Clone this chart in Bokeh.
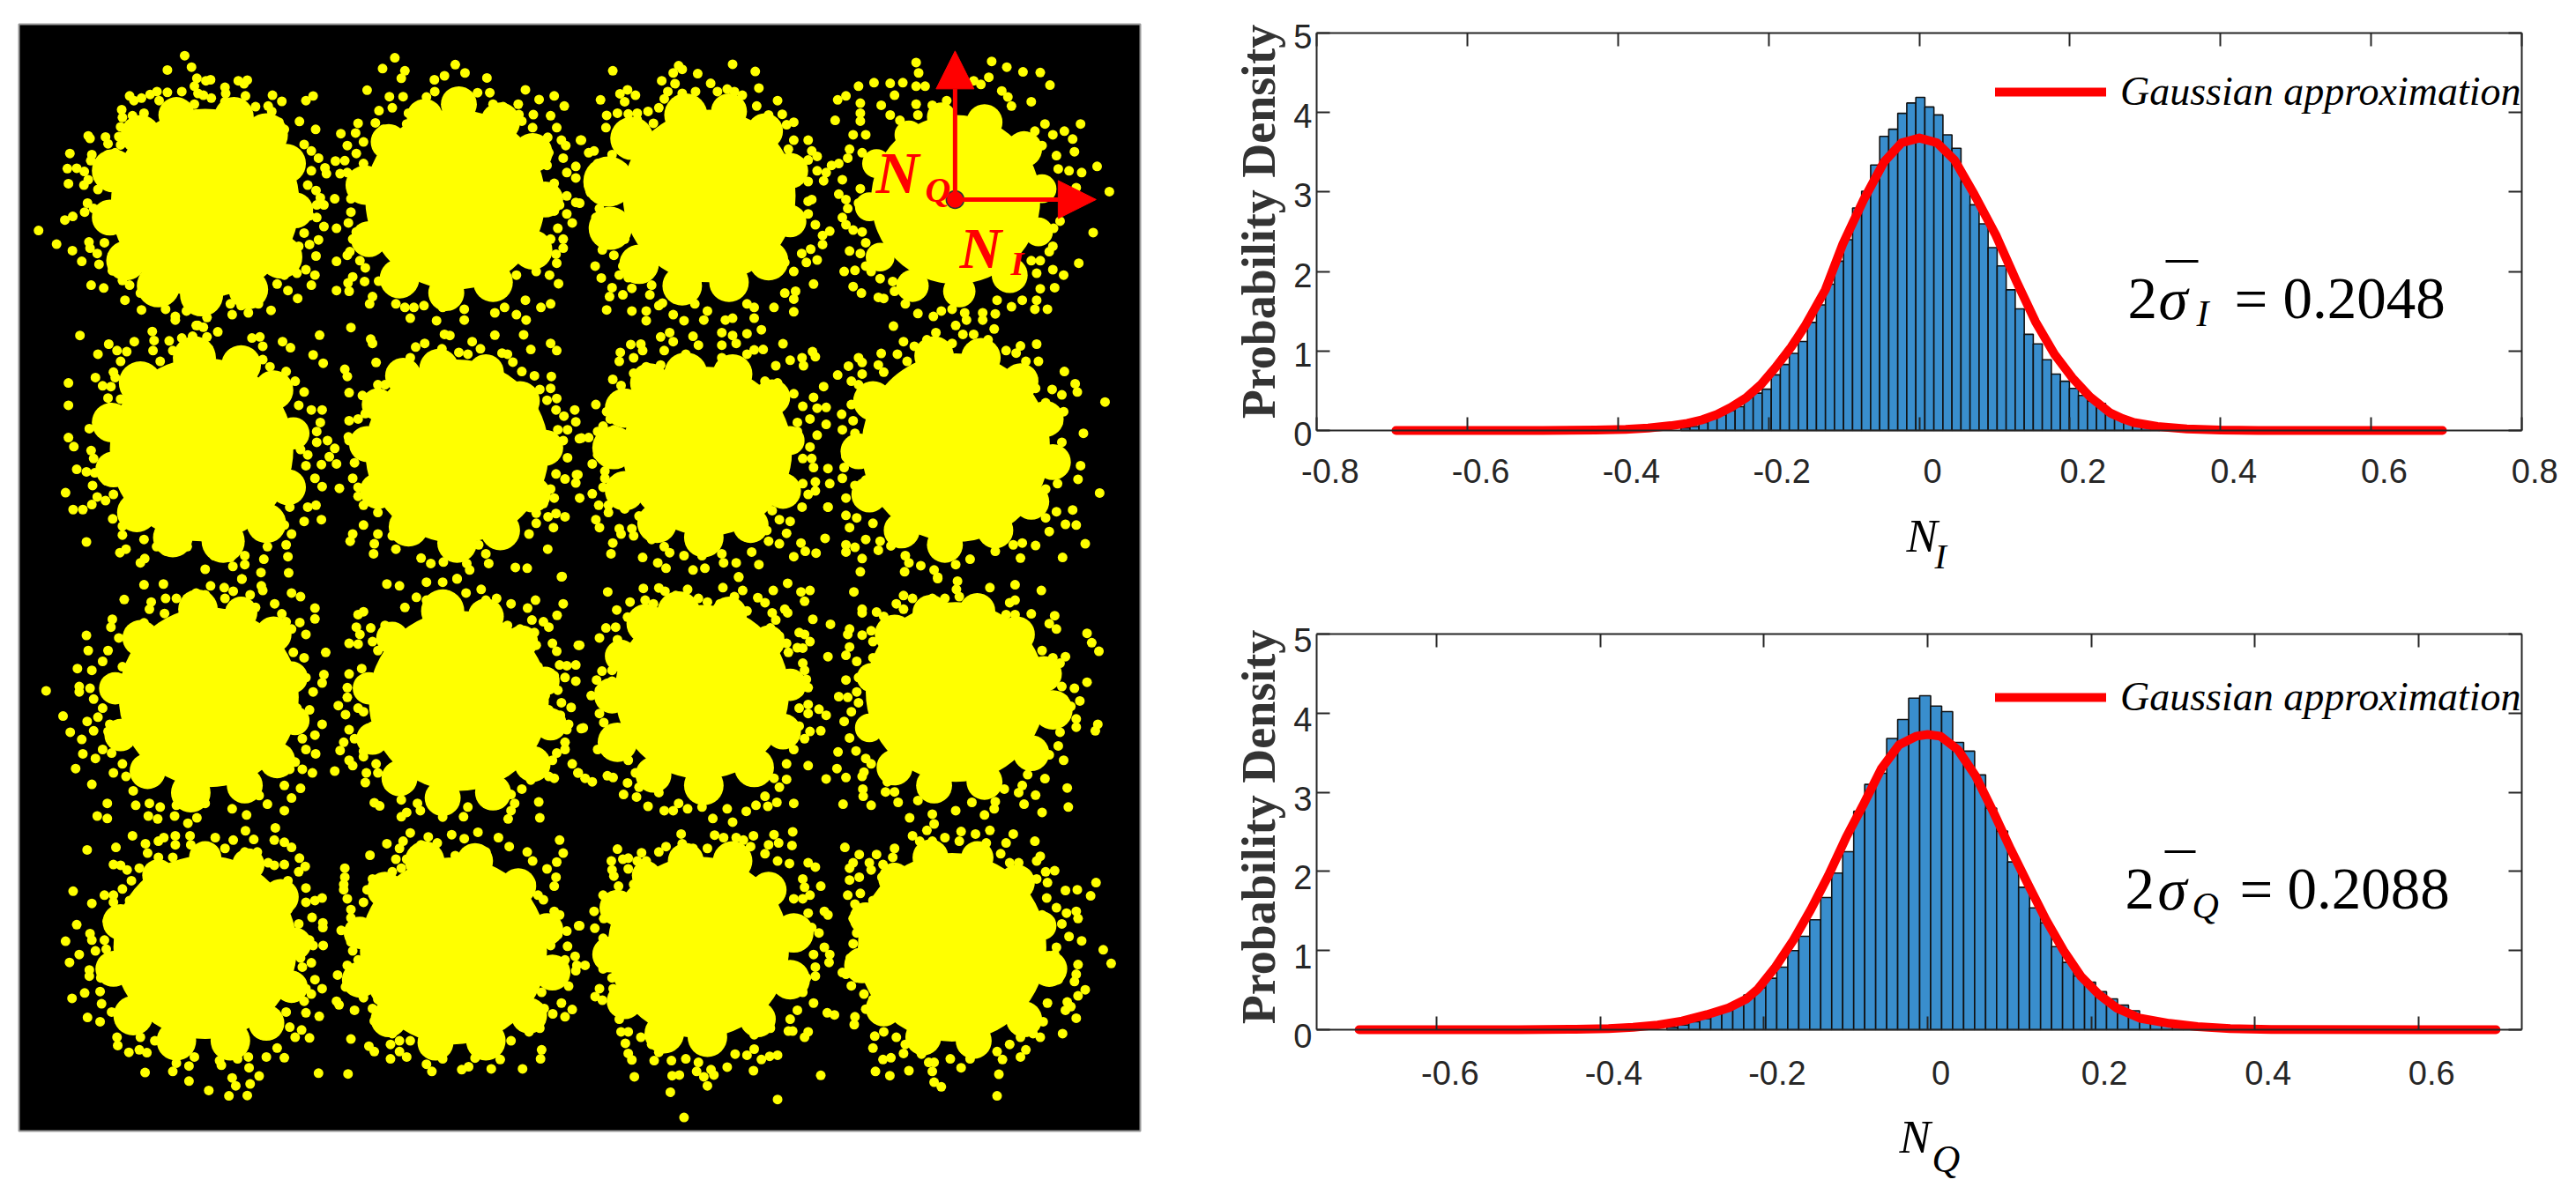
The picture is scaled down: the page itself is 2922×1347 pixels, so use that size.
from bokeh.plotting import figure
from bokeh.layouts import row, column
from bokeh.models import Range1d, Label, LinearAxis, FixedTicker, Legend, LegendItem, Arrow, NormalHead
from bokeh.embed import file_html
from bokeh.resources import INLINE
import math

# ---- constellation: cluster cores (x, y, radius), dense lobes on their rims, and visible scattered samples, per image quadrant
Q_OFFSET_X = 1555.75
Q_OFFSET_Y = 1519.0
CORES_Q1 = [(520,490,262),(1215,480,250),(510,1175,255),(1220,1180,255),
(440,245,50),(600,250,55),(690,300,60),(745,380,55),(770,510,50),(730,640,60),(640,730,55),(510,745,60),(390,720,60),(300,650,55),(255,530,50),(265,400,60),(340,300,55),
(1130,250,50),(1225,215,50),(1340,265,55),(1430,350,55),(1465,480,50),(1430,620,55),(1320,710,55),(1190,740,50),(1060,700,55),(975,590,50),(965,440,55),(1030,320,50),
(490,920,60),(620,940,55),(710,1010,55),(765,1130,45),(750,1280,50),(690,1380,55),(570,1430,60),(430,1420,55),(330,1350,55),(265,1230,50),(260,1100,55),(340,990,60),
(1170,950,55),(1300,960,50),(1395,1040,55),(1465,1170,50),(1430,1300,50),(1340,1400,55),(1220,1435,55),(1085,1390,55),(1000,1290,50),(970,1160,50),(1000,1050,45),(1070,970,50)]
CORES_Q2 = [(365,470,240),(1050,480,235),(360,1180,235),(1050,1170,262),
(300,245,60),(420,235,50),(520,290,50),(590,400,50),(590,540,45),(530,650,55),(420,710,55),(290,720,55),(170,660,55),(90,560,60),(85,430,70),(150,310,60),
(1010,250,40),(1130,265,50),(1240,340,50),(1290,450,40),(1280,570,40),(1200,690,50),(1060,735,45),(930,720,45),(840,640,40),(810,500,40),(830,380,40),(920,300,40),
(300,965,60),(430,965,55),(540,1030,50),(590,1150,40),(570,1290,50),(480,1385,50),(350,1420,55),(220,1380,55),(130,1290,55),(100,1170,60),(130,1060,55),(200,990,55),
(990,915,55),(1120,920,55),(1230,985,50),(1300,1090,50),(1320,1210,50),(1260,1320,50),(1160,1400,50),(1020,1440,50),(900,1400,50),(810,1300,50),(780,1180,50),(820,1040,55)]
CORES_Q3 = [(530,345,250),(1225,355,250),(520,1040,255),(1210,1050,260),
(500,100,55),(620,110,45),(710,170,50),(760,290,45),(770,410,40),(720,520,50),(630,590,50),(480,610,55),(360,550,50),(285,450,45),(270,320,45),(340,180,50),
(1180,105,60),(1300,120,50),(1400,190,45),(1465,300,40),(1480,420,45),(1430,530,50),(1320,610,50),(1180,625,50),(1060,570,50),(985,460,45),(975,320,45),(1040,180,45),
(520,790,45),(640,810,45),(730,900,50),(770,1030,45),(760,1150,45),(690,1250,50),(590,1300,55),(440,1300,55),(320,1230,55),(265,1100,50),(285,970,50),(390,840,45),
(1130,800,55),(1270,800,50),(1390,870,50),(1470,990,45),(1485,1110,50),(1420,1230,50),(1300,1300,55),(1160,1305,50),(1030,1240,50),(950,1130,50),(950,1000,45),(1020,880,50)]
CORES_Q4 = [(345,330,242),(1050,330,250),(335,1040,252),(1040,1040,262),
(280,110,60),(420,115,50),(530,190,45),(590,310,45),(570,440,50),(490,540,55),(350,590,55),(210,560,50),(110,470,55),(95,340,50),(120,230,45),(190,140,55),
(980,110,50),(1110,105,50),(1220,170,50),(1295,280,50),(1320,380,55),(1260,500,50),(1130,580,50),(990,590,50),(880,540,50),(810,430,40),(815,290,40),(880,170,55),
(300,800,50),(430,800,55),(530,880,50),(600,1000,55),(590,1130,55),(500,1240,50),(360,1290,55),(240,1280,55),(130,1190,50),(90,1060,50),(110,930,50),(190,840,40),
(980,790,50),(1110,790,45),(1220,860,50),(1290,980,40),(1310,1100,50),(1240,1240,50),(1100,1300,50),(960,1290,50),(850,1210,50),(790,1090,50),(800,960,45),(880,850,45)]

POINTS_Q1 = [(463,80),(482,112),(415,120),(497,143),(522,150),(535,147),(612,150),(637,148),(628,158),(575,168),(577,185),(490,165),(500,185),(310,192),(322,205),(343,198),(367,188),(386,180),(415,182),(455,180),(392,205),(515,190),(537,198),(632,192),(575,208),(610,212),(707,190),(733,207),(800,205),(820,192),(288,230),(318,247),(290,252),(285,278),(280,305),(350,240),(405,240),(455,225),(490,215),(660,222),(695,220),(705,235),(345,270),(725,265),(782,263),(740,285),(827,285),(660,285),(195,303),(200,310),(243,306),(250,325),(285,328),(320,330),(795,327),(815,345),(770,355),(144,352),(205,355),(202,372),(270,350),(250,355),(835,365),(853,392),(857,408),(815,400),(137,394),(163,393),(184,402),(195,425),(140,436),(183,440),(230,430),(222,452),(235,400),(805,440),(828,455),(840,475),(850,495),(830,495),(810,525),(830,530),(850,555),(193,490),(185,515),(210,505),(232,525),(130,537),(152,527),(57,566),(107,604),(151,622),(197,598),(200,615),(220,630),(177,652),(225,660),(262,678),(240,600),(795,573),(780,610),(810,605),(835,592),(760,635),(828,637),(775,685),(800,675),(825,690),(815,718),(720,715),(740,690),(750,733),(777,755),(703,788),(203,718),(238,726),(290,705),(310,718),(297,760),(340,740),(365,750),(343,787),(410,785),(437,805),(437,815),(468,790),(510,780),(525,808),(500,830),(595,800),(640,795),(668,770),(620,775),(655,745),(590,770),
(1047,86),(1013,116),(1075,122),(1065,143),(1215,105),(1242,128),(1185,136),(1157,147),(1303,142),(970,176),(1032,194),(1070,194),(1135,195),(1158,180),(1220,185),(1277,183),(1311,183),(1410,175),(1448,202),(1490,192),(1518,220),(1320,215),(1348,222),(1390,215),(1003,233),(1040,225),(1085,240),(1110,255),(1080,270),(945,268),(993,267),(1260,218),(1360,250),(1392,244),(1432,244),(1480,247),(1400,262),(1430,280),(1497,280),(897,297),(938,295),(1015,285),(1563,315),(1472,307),(1510,315),(1522,330),(915,330),(960,320),(940,352),(1445,335),(1475,350),(1515,365),(882,373),(908,372),(960,380),(1550,388),(895,408),(915,405),(1525,405),(1550,420),(1470,385),(965,440),(1490,435),(880,478),(925,478),(1525,470),(1505,495),(1550,488),(925,515),(1490,512),(1525,520),(918,545),(1540,545),(1500,560),(885,560),(940,570),(1515,590),(930,590),(1480,590),(957,615),(1515,615),(922,625),(915,635),(1495,632),(885,652),(950,650),(1497,657),(965,670),(930,695),(1440,680),(1477,690),(963,708),(1002,707),(917,712),(1502,714),(885,733),(920,735),(1045,720),(1385,690),(1410,760),(985,750),(977,770),(1050,770),(1075,780),(1100,780),(1128,775),(1180,780),(1240,785),(1325,795),(1352,780),(1385,800),(1453,780),(1480,770),(1090,810),(1163,817),(1240,815),(1412,815),
(172,858),(373,847),(495,830),(515,835),(525,862),(555,848),(252,882),(323,875),(378,872),(420,873),(455,865),(485,860),(650,865),(672,862),(735,875),(757,892),(838,857),(275,900),(302,903),(680,888),(222,910),(375,900),(430,900),(465,895),(530,895),(600,905),(820,912),(680,925),(285,930),(395,930),(445,930),(630,905),(848,935),(320,950),(265,960),(745,958),(700,945),(215,975),(270,975),(140,990),(235,998),(770,985),(258,1000),(795,1015),(250,1032),(285,1035),(140,1052),(255,1058),(780,1052),(815,1065),(845,1065),(240,1085),(840,1100),(198,1117),(225,1105),(780,1110),(830,1125),(140,1142),(155,1167),(245,1135),(790,1140),(860,1150),(830,1155),(203,1178),(210,1200),(785,1175),(880,1172),(805,1190),(865,1195),(885,1215),(163,1230),(190,1237),(213,1240),(245,1262),(800,1220),(843,1217),(825,1255),(207,1275),(845,1278),(893,1283),(132,1295),(220,1307),(265,1300),(770,1300),(205,1328),(243,1317),(153,1342),(180,1342),(305,1330),(755,1335),(805,1335),(828,1330),(295,1352),(263,1368),(795,1375),(843,1370),(345,1380),(290,1388),(290,1413),(740,1385),(720,1400),(760,1410),(190,1432),(350,1425),(385,1445),(745,1440),(693,1445),(300,1452),(283,1462),(410,1457),(470,1445),(530,1443),(600,1445),(352,1478),(340,1490),(545,1470),(590,1475),(630,1470),(683,1480),(750,1473),(597,1500),(520,1508),(630,1495),(675,1517),(752,1518),(622,1535),
(925,836),(980,868),(985,880),(1185,855),(1200,858),(1325,857),(1405,856),(1262,875),(1480,880),(1497,900),(1130,880),(1178,895),(1105,890),(1225,905),(1250,910),(1285,895),(1345,907),(1360,910),(1425,897),(995,933),(1045,945),(1090,920),(1160,935),(1375,932),(908,952),(915,972),(1078,965),(1400,958),(1435,970),(1482,972),(1000,995),(1020,995),(1060,998),(1450,1008),(1480,1005),(920,1017),(957,1025),(1005,1027),(1470,1038),(1497,1033),(975,1045),(1430,1055),(1495,1065),(1547,1065),(1517,1082),(965,1075),(1550,1098),(920,1095),(945,1090),(1435,1085),(1500,1120),(1527,1120),(918,1140),(920,1150),(955,1140),(1560,1145),(1490,1155),(1515,1150),(960,1175),(1480,1190),(1527,1198),(935,1212),(1495,1243),(1552,1245),(930,1255),(1520,1257),(1550,1268),(945,1280),(1480,1285),(980,1310),(1490,1310),(945,1305),(1460,1325),(1415,1320),(960,1330),(1440,1352),(1473,1362),(1495,1353),(1520,1362),(1000,1350),(1440,1380),(1488,1392),(1050,1380),(960,1385),(1000,1410),(1040,1415),(1085,1410),(1420,1410),(930,1410),(923,1430),(990,1437),(1050,1452),(988,1465),(1225,1445),(1280,1440),(1300,1465),(1472,1452),(1120,1477),(1147,1492),(1182,1488),(1247,1492),(1255,1510),(1308,1492),(1382,1503),(1415,1505),(1512,1528),(1220,1535)]

POINTS_Q2 = [(97,122),(280,108),(290,118),(333,130),(430,104),(493,124),(265,128),(233,150),(270,158),(369,157),(503,170),(117,186),(138,175),(160,190),(250,180),(290,185),(327,180),(388,180),(415,173),(435,180),(457,190),(63,203),(130,208),(240,200),(555,205),(497,220),(80,246),(110,240),(140,242),(165,240),(195,235),(225,225),(275,210),(325,210),(568,243),(600,265),(580,272),(78,280),(120,280),(165,258),(210,268),(530,245),(550,295),(10,315),(125,305),(600,315),(640,315),(30,350),(45,345),(95,355),(585,340),(650,345),(665,360),(55,380),(78,380),(640,370),(665,400),(690,405),(683,428),(30,440),(35,460),(610,420),(640,430),(5,490),(60,505),(640,485),(650,480),(600,510),(50,530),(640,520),(620,545),(660,550),(700,568),(680,580),(55,575),(130,590),(680,605),(68,620),(622,630),(647,618),(665,648),(635,655),(100,635),(48,665),(125,665),(155,655),(600,680),(575,655),(115,690),(140,697),(65,698),(205,718),(655,715),(95,725),(150,727),(88,750),(125,745),(200,745),(575,740),(605,735),(600,757),(235,768),(270,755),(325,770),(470,770),(80,787),(150,790),(190,790),(225,775),(265,800),(360,790),(490,780),(545,780),(600,792),(190,817),(295,817),(350,815),(410,815),(430,810),(490,810),(510,842),
(940,99),(1150,96),(1192,112),(1237,125),(1285,127),(947,128),(1142,140),(780,165),(823,155),(868,157),(903,155),(940,165),(965,165),(1100,150),(1312,162),(1120,160),(722,203),(745,192),(880,190),(1178,178),(1195,195),(1260,208),(785,212),(843,218),(985,218),(1205,220),(785,240),(868,245),(940,215),(1025,205),(715,260),(785,262),(895,260),(945,245),(1397,270),(1298,270),(1352,290),(1375,312),(1270,290),(1320,300),(765,300),(800,300),(920,280),(1380,347),(1330,358),(1290,330),(755,340),(790,350),(705,385),(725,380),(750,365),(1443,388),(1400,405),(1365,400),(1335,395),(1385,447),(735,425),(1477,458),(725,465),(785,450),(745,480),(780,490),(750,505),(1340,540),(735,530),(745,550),(765,565),(790,570),(1322,560),(1432,572),(800,600),(755,623),(785,630),(1320,610),(1310,625),(800,665),(740,680),(770,677),(1392,657),(1260,650),(1285,650),(815,680),(1320,675),(1275,685),(1350,690),(840,700),(875,708),(765,722),(1325,725),(1285,728),(788,740),(835,752),(850,755),(880,735),(1235,760),(1165,760),(910,770),(1205,778),(1275,760),(1270,785),(1305,785),(945,797),(988,805),(1040,785),(1010,790),(1075,795),(1125,795),(1160,798),(1080,815),(1125,815),
(400,850),(430,858),(470,853),(570,881),(255,850),(230,862),(320,860),(265,875),(147,883),(175,882),(335,885),(400,885),(440,880),(490,898),(515,897),(652,903),(660,917),(118,905),(155,920),(115,930),(180,900),(240,900),(300,910),(400,920),(470,910),(623,920),(627,942),(590,927),(550,942),(155,963),(190,945),(230,940),(450,945),(97,980),(120,997),(110,1025),(170,990),(520,985),(555,990),(683,1000),(600,1020),(655,1030),(50,1050),(130,1050),(625,1055),(665,1060),(690,1058),(80,1070),(90,1090),(125,1090),(645,1090),(610,1100),(690,1105),(70,1110),(100,1120),(610,1125),(665,1135),(10,1143),(30,1142),(55,1125),(645,1168),(120,1170),(605,1170),(55,1190),(40,1215),(95,1210),(650,1200),(625,1200),(75,1235),(655,1225),(695,1228),(75,1255),(125,1255),(660,1265),(700,1270),(0,1245),(70,1280),(90,1285),(660,1290),(625,1270),(40,1298),(105,1305),(5,1310),(640,1300),(58,1330),(85,1330),(623,1335),(85,1350),(695,1335),(130,1340),(170,1360),(50,1370),(590,1375),(540,1345),(60,1392),(115,1395),(220,1360),(120,1410),(150,1395),(155,1415),(560,1370),(580,1408),(525,1400),(97,1435),(205,1425),(240,1445),(620,1435),(530,1430),(687,1422),(560,1437),(92,1465),(255,1462),(295,1470),(345,1470),(400,1465),(483,1460),(632,1458),(662,1463),(180,1475),(600,1473),(222,1490),(245,1505),(405,1490),(440,1490),(503,1495),(320,1510),(353,1505),(447,1530),
(877,832),(1050,830),(1157,840),(995,850),(1070,855),(905,875),(935,888),(970,870),(1040,880),(1100,855),(1140,870),(1275,882),(1230,887),(1190,900),(843,908),(888,910),(960,905),(780,920),(790,933),(752,943),(835,940),(915,930),(1245,930),(1218,907),(1280,930),(722,968),(790,965),(850,960),(1352,958),(1265,975),(760,985),(780,995),(1382,992),(1388,1015),(1318,1008),(820,1005),(1215,995),(1272,1005),(790,1020),(1345,1023),(1300,1045),(733,1077),(1465,1043),(1350,1070),(765,1095),(760,1050),(735,1120),(770,1130),(1335,1100),(1405,1130),(1345,1155),(745,1195),(765,1170),(1330,1195),(740,1225),(735,1255),(1397,1220),(1390,1258),(800,1260),(1335,1205),(770,1275),(1333,1270),(1450,1296),(745,1310),(775,1300),(1300,1285),(695,1335),(790,1325),(1375,1343),(1330,1348),(745,1358),(775,1365),(1290,1335),(820,1380),(755,1392),(1355,1383),(1385,1385),(1300,1365),(800,1425),(840,1430),(1310,1403),(1410,1437),(745,1440),(770,1447),(870,1443),(1272,1442),(1235,1435),(835,1455),(745,1460),(910,1470),(1210,1440),(1160,1458),(1347,1475),(790,1478),(1230,1477),(1090,1480),(1050,1495),(920,1490),(953,1498),(785,1515),(908,1515),(990,1510),(1000,1530)]

POINTS_Q3 = [(350,32),(404,30),(622,16),(676,35),(680,48),(760,55),(785,65),(295,73),(535,35),(573,40),(598,50),(495,55),(520,60),(645,60),(370,80),(365,100),(410,70),(440,70),(470,70),(575,70),(713,85),(825,97),(825,127),(407,112),(660,95),(733,113),(262,128),(258,150),(783,137),(350,138),(190,173),(745,135),(800,170),(760,155),(280,180),(195,215),(855,220),(740,185),(765,220),(320,190),(795,235),(250,215),(235,245),(165,265),(205,270),(290,260),(775,270),(850,282),(800,290),(760,300),(170,315),(170,330),(200,320),(250,315),(78,327),(845,305),(820,330),(210,350),(235,375),(775,375),(125,397),(222,400),(810,380),(790,410),(845,420),(192,412),(255,420),(145,442),(210,438),(825,450),(790,460),(177,462),(275,470),(250,440),(180,502),(215,515),(260,500),(235,490),(827,502),(800,490),(160,543),(290,530),(770,525),(755,545),(790,545),(818,555),(265,555),(300,565),(205,587),(350,570),(740,590),(785,598),(320,605),(760,625),(327,645),(365,640),(395,650),(440,645),(520,640),(670,618),(693,642),(740,660),(248,640),(220,675),(248,682),(362,675),(388,683),(435,675),(497,680),(472,695),(595,655),(635,672),
(1025,30),(1060,35),(1135,25),(1180,25),(1220,15),(1510,10),(1287,45),(1245,55),(1107,67),(1135,75),(1330,70),(1438,75),(1370,85),(1515,85),(1416,97),(960,107),(945,115),(1075,95),(1150,70),(1300,75),(1498,117),(1428,130),(1460,135),(940,150),(980,152),(1475,150),(1020,145),(1360,145),(1395,155),(1435,165),(950,170),(920,195),(945,197),(985,190),(1010,182),(1557,200),(1485,195),(1440,200),(1497,217),(1000,215),(955,265),(1505,255),(1525,257),(1550,255),(920,280),(1445,260),(1490,285),(1520,290),(980,290),(915,318),(1550,300),(1500,325),(915,345),(1510,360),(890,368),(1465,340),(945,375),(1537,373),(910,393),(960,385),(1475,380),(1507,395),(1530,420),(1565,432),(920,435),(935,460),(985,425),(1500,430),(1525,435),(905,470),(895,493),(960,495),(1520,470),(1520,490),(1497,500),(920,520),(930,535),(1485,520),(1540,530),(960,510),(995,530),(1000,555),(968,555),(1557,555),(880,550),(965,582),(1475,565),(1490,570),(1030,590),(1425,575),(1060,600),(1400,600),(1065,630),(1370,615),(1110,640),(990,638),(1005,647),(1380,640),(1340,640),(1447,636),(1080,665),(1065,677),(1118,660),(1180,678),(1238,677),(1362,683),(1450,680),(1300,640),(1190,645),(1250,650),(1370,660),
(715,708),(318,730),(632,716),(405,735),(390,745),(437,730),(478,730),(548,735),(598,742),(655,740),(712,742),(740,748),(760,762),(272,762),(354,752),(192,769),(437,755),(480,755),(575,765),(630,775),(665,775),(360,778),(390,790),(430,790),(782,792),(265,810),(285,812),(303,825),(337,820),(380,822),(695,805),(740,810),(712,812),(798,815),(780,830),(315,855),(360,850),(750,855),(800,875),(153,884),(290,878),(240,895),(265,895),(265,915),(800,915),(205,918),(745,905),(845,903),(825,910),(310,910),(750,935),(320,975),(248,967),(817,957),(163,977),(847,972),(847,985),(780,975),(200,1002),(205,1020),(240,1020),(132,1023),(810,1020),(820,1035),(848,1035),(170,1060),(215,1050),(245,1045),(143,1082),(240,1080),(785,1070),(815,1083),(790,1095),(198,1103),(198,1120),(230,1125),(770,1120),(825,1130),(845,1155),(185,1167),(228,1163),(800,1155),(150,1182),(232,1197),(765,1180),(815,1170),(795,1190),(193,1235),(228,1247),(260,1220),(800,1222),(837,1232),(745,1220),(300,1255),(755,1262),(788,1270),(275,1290),(340,1290),(770,1290),(810,1292),(277,1313),(380,1300),(720,1320),(308,1332),(337,1325),(358,1333),(420,1330),(740,1347),(690,1345),(490,1345),(440,1362),(560,1355),(640,1345),(610,1350),(430,1385),(475,1370),(353,1388),(642,1375),(835,1390),(565,1368),(595,1403),(670,1398),(475,1412),(645,1420),(605,1425),(530,1438),(586,1453),(637,1452),
(1090,722),(1205,727),(1278,720),(1505,742),(1025,752),(1070,745),(1140,733),(1240,738),(1335,735),(1060,765),(1120,755),(1165,750),(1300,775),(1365,760),(1415,775),(1515,778),(978,784),(1050,795),(1080,795),(1120,780),(1165,780),(1215,785),(1430,800),(1497,803),(908,820),(1065,820),(1040,830),(1470,822),(985,850),(908,845),(1495,845),(905,865),(1490,870),(905,880),(970,880),(1000,860),(1425,860),(1445,895),(960,915),(915,905),(925,935),(1460,908),(1490,940),(1505,950),(925,958),(1558,980),(1450,965),(1480,985),(1525,995),(898,993),(925,985),(975,985),(1500,1005),(925,1025),(1527,1037),(930,1050),(1480,1035),(945,1075),(1548,1065),(1520,1075),(915,1090),(1553,1090),(1550,1105),(925,1110),(1480,1100),(888,1117),(960,1110),(910,1150),(1530,1148),(945,1155),(1490,1145),(960,1180),(885,1190),(892,1200),(1455,1165),(1000,1185),(1510,1195),(935,1215),(985,1210),(1462,1210),(1540,1213),(1486,1225),(1520,1233),(990,1245),(1440,1240),(1450,1265),(1020,1270),(1420,1275),(1040,1280),(1370,1300),(1060,1300),(925,1295),(1035,1310),(975,1315),(990,1330),(1090,1300),(1300,1300),(1060,1330),(1325,1322),(1300,1335),(1455,1325),(1452,1350),(1035,1350),(1080,1345),(1130,1325),(1180,1350),(1270,1348),(1340,1352),(1135,1365),(1150,1385),(1233,1380),(1252,1372),(1315,1378),(1402,1378),(917,1392)]

POINTS_Q4 = [(83,52),(182,42),(225,41),(242,50),(403,40),(447,10),(543,48),(583,28),(620,52),(645,48),(630,78),(305,45),(272,62),(335,70),(458,48),(500,68),(187,75),(145,80),(210,85),(360,80),(395,85),(435,65),(520,82),(108,102),(575,100),(583,110),(653,128),(702,142),(138,122),(165,110),(470,105),(540,110),(550,130),(78,152),(105,150),(535,152),(615,165),(630,170),(60,180),(110,185),(170,135),(165,165),(645,190),(560,175),(5,200),(150,210),(580,195),(610,207),(625,208),(695,232),(100,225),(585,220),(625,250),(67,272),(95,270),(630,270),(52,297),(95,300),(635,295),(640,318),(60,325),(37,340),(65,345),(615,330),(100,345),(85,365),(640,365),(670,378),(690,395),(60,390),(72,415),(640,390),(615,375),(15,430),(675,438),(645,440),(100,455),(85,460),(615,425),(55,490),(82,487),(630,460),(115,500),(600,490),(140,520),(640,535),(580,530),(0,555),(20,570),(40,580),(82,563),(98,568),(160,555),(580,573),(545,570),(138,583),(170,595),(560,595),(127,615),(163,622),(225,610),(520,620),(195,648),(240,660),(265,660),(280,640),(345,650),(415,655),(468,662),(495,645),(528,648),(553,637),(600,640),(375,682),(430,692),(305,655),
(767,52),(1000,15),(1055,22),(1052,45),(1145,40),(1215,32),(1288,48),(905,62),(930,70),(985,70),(1020,70),(1060,65),(885,85),(830,108),(790,100),(790,110),(1127,75),(1215,75),(1200,82),(1215,115),(850,120),(905,100),(1260,113),(1325,118),(755,155),(750,170),(880,140),(815,160),(790,172),(1190,115),(1165,125),(1310,140),(1330,155),(1245,155),(1415,167),(1428,193),(1448,217),(755,205),(1290,215),(820,190),(745,228),(775,245),(820,235),(1355,232),(1320,235),(1340,250),(1310,265),(745,297),(780,290),(1415,303),(1345,315),(1380,320),(775,330),(725,343),(750,345),(1395,355),(1350,350),(780,360),(1370,370),(760,385),(740,412),(1385,405),(1385,428),(785,430),(1445,420),(1438,438),(755,458),(1340,442),(1335,480),(723,497),(773,494),(800,515),(1350,520),(1310,505),(815,530),(720,543),(795,553),(745,568),(690,572),(860,555),(860,580),(1275,515),(1250,560),(1298,571),(790,565),(1235,590),(1360,597),(792,600),(793,620),(855,608),(880,608),(1225,610),(1272,617),(1185,600),(737,642),(815,645),(890,637),(945,632),(1240,642),(1160,635),(1095,637),(1363,650),(1050,660),(1130,672),(1157,655),(1290,665),(985,670),(922,680),
(287,725),(380,728),(597,719),(545,727),(488,730),(405,735),(440,735),(460,742),(290,752),(558,750),(595,757),(110,767),(245,760),(320,765),(360,765),(480,760),(530,755),(177,777),(225,775),(140,792),(93,800),(125,795),(165,800),(190,800),(520,780),(420,770),(140,822),(588,807),(640,805),(660,817),(95,825),(100,842),(555,800),(625,850),(675,870),(155,865),(113,870),(630,873),(525,850),(100,900),(560,880),(645,895),(70,895),(105,920),(600,905),(625,905),(45,940),(685,940),(695,950),(72,960),(640,945),(100,965),(5,980),(47,987),(105,990),(650,985),(670,1000),(70,1015),(685,1040),(65,1040),(655,1060),(700,1060),(698,1082),(20,1090),(70,1100),(660,1095),(95,1125),(635,1125),(660,1120),(125,1140),(98,1155),(625,1165),(60,1155),(48,1177),(68,1187),(655,1195),(130,1180),(610,1215),(693,1222),(713,1228),(140,1215),(115,1240),(590,1240),(120,1275),(585,1273),(597,1273),(140,1275),(535,1265),(630,1290),(640,1275),(175,1290),(490,1283),(132,1307),(205,1310),(140,1335),(225,1332),(150,1353),(212,1355),(260,1355),(300,1350),(437,1337),(470,1340),(490,1323),(510,1352),(533,1343),(555,1340),(335,1360),(415,1373),(330,1385),(370,1380),(488,1383),(262,1397),(282,1395),(350,1400),(378,1395),(157,1400),(675,1396),(360,1425),(257,1443),(555,1463),(295,1513),
(1145,715),(1210,725),(1065,718),(1105,725),(970,715),(990,697),(930,730),(1020,735),(1270,745),(1135,750),(1060,745),(1190,750),(742,762),(950,745),(880,765),(985,745),(782,782),(830,782),(1285,787),(875,790),(1175,780),(765,805),(810,805),(848,810),(1200,805),(1225,805),(1275,800),(755,820),(815,825),(1300,830),(1325,827),(845,845),(755,853),(782,845),(1275,850),(1305,860),(1440,860),(1355,882),(1388,880),(750,895),(785,890),(1250,880),(1303,903),(1425,897),(820,910),(770,920),(1330,930),(1385,940),(1358,945),(765,960),(1290,950),(1390,960),(1345,975),(775,1000),(1300,990),(1365,1010),(1400,1022),(765,1030),(1330,1040),(1460,1047),(757,1070),(1325,1060),(1482,1085),(735,1110),(745,1115),(1390,1088),(1345,1105),(775,1125),(1385,1115),(760,1147),(1380,1135),(1335,1130),(795,1170),(1410,1158),(1390,1175),(820,1185),(1305,1195),(1360,1192),(1370,1205),(800,1212),(1355,1215),(1385,1237),(770,1233),(768,1255),(830,1240),(1265,1215),(1293,1247),(1265,1240),(850,1275),(1265,1280),(1285,1290),(1347,1280),(825,1287),(885,1290),(1230,1290),(820,1320),(910,1310),(1245,1325),(1200,1310),(905,1335),(955,1337),(1230,1345),(1165,1330),(848,1352),(870,1347),(975,1360),(1035,1350),(1090,1350),(1180,1352),(827,1385),(867,1397),(920,1383),(990,1360),(985,1385),(1065,1375),(1170,1393),(990,1415),(1010,1428),(1165,1453)]

# ---- histograms
I_FIRST_EDGE = -0.3165
I_BIN_WIDTH = 0.012
I_DENSITY = [0.03,0.05,0.10,0.19,0.20,0.25,0.30,0.42,0.47,0.52,0.70,0.83,0.97,1.12,1.36,1.58,1.84,2.13,2.40,2.80,3.01,3.34,3.70,3.79,3.99,4.12,4.19,4.07,3.97,3.72,3.55,3.13,2.84,2.60,2.30,2.07,1.77,1.53,1.21,1.09,0.89,0.71,0.62,0.53,0.44,0.37,0.34,0.22,0.16,0.11,0.07,0.05,0.03]
Q_FIRST_EDGE = -0.3188
Q_BIN_WIDTH = 0.01344
Q_DENSITY = [0.03,0.06,0.10,0.14,0.20,0.26,0.33,0.44,0.53,0.65,0.79,1.00,1.18,1.39,1.67,1.98,2.25,2.76,3.10,3.24,3.68,3.92,4.19,4.22,4.09,4.02,3.63,3.52,3.22,2.80,2.51,2.12,1.80,1.54,1.35,1.05,0.85,0.68,0.60,0.48,0.39,0.31,0.24,0.16,0.11,0.08,0.05,0.03,0.02]

I_CURVE_X = [-0.695,-0.6,-0.5,-0.43,-0.39,-0.36,-0.33,-0.308,-0.288,-0.269,-0.25,-0.2301,-0.21,-0.1911,-0.17,-0.152,-0.1247,-0.1013,-0.0739,-0.0466,-0.0232,0.0002,0.0236,0.047,0.0731,0.1017,0.129,0.1544,0.1797,0.2032,0.2266,0.2537,0.27,0.2851,0.3164,0.3554,0.40,0.45,0.6,0.695]
I_CURVE_Y = [0,0,0,0.005,0.015,0.03,0.06,0.09,0.135,0.20,0.29,0.41,0.58,0.79,1.05,1.31,1.77,2.35,2.90,3.38,3.62,3.68,3.62,3.40,2.97,2.46,1.88,1.37,0.96,0.665,0.425,0.22,0.15,0.10,0.05,0.02,0.005,0,0,0]
Q_CURVE_X = [-0.695,-0.6,-0.5,-0.43,-0.39,-0.36,-0.33,-0.30,-0.27,-0.2433,-0.2217,-0.2073,-0.1858,-0.1642,-0.1427,-0.1212,-0.0996,-0.0780,-0.0565,-0.0349,-0.0133,0.0,0.0154,0.0369,0.0585,0.08,0.1016,0.1232,0.1447,0.1663,0.1878,0.2094,0.231,0.2597,0.2956,0.33,0.37,0.42,0.6,0.695]
Q_CURVE_Y = [0,0,0,0.005,0.015,0.03,0.06,0.11,0.19,0.275,0.386,0.516,0.795,1.13,1.52,1.95,2.43,2.855,3.30,3.60,3.71,3.73,3.71,3.54,3.21,2.76,2.28,1.83,1.39,1.00,0.67,0.445,0.275,0.145,0.08,0.04,0.015,0.003,0,0]

TOP_XTICKS = [-0.8,-0.6,-0.4,-0.2,0,0.2,0.4,0.6,0.8]
TOP_XLABELS = ["-0.8","-0.6","-0.4","-0.2","0","0.2","0.4","0.6","0.8"]
BOT_XTICKS = [-0.6,-0.4,-0.2,0,0.2,0.4,0.6]
BOT_XLABELS = ["-0.6","-0.4","-0.2","0","0.2","0.4","0.6"]
YTICKS = [0,1,2,3,4,5]
YLABELS = ["0","1","2","3","4","5"]
LEGEND_TEXT = "Gaussian approximation"
YLABEL = "Probability Density"

SERIF = "Liberation Serif"
SANS = "Liberation Sans"
INK = "#262626"


def txt(p, fl, fb, px, py, s, size, style="normal", color="black", font=SERIF, align="left", baseline="alphabetic", angle=0.0):
    p.add_layout(Label(x=px - fl, y=fb - py, x_units="screen", y_units="screen", text=s,
                       text_font=font, text_font_size=f"{size}px", text_font_style=style,
                       text_color=color, text_align=align, text_baseline=baseline, angle=angle))


# ---- left panel
left = figure(width=1380, height=1308, output_backend="svg", toolbar_location=None,
              x_axis_location=None, y_axis_location=None,
              x_range=Range1d(2.45, 3118.85), y_range=Range1d(3069.85, -7.35),
              min_border_left=21, min_border_right=87, min_border_top=27, min_border_bottom=25,
              background_fill_color="black", outline_line_color="#999999", outline_line_width=2)
left.grid.visible = False
QUADS = [(CORES_Q1, POINTS_Q1, 0, 0), (CORES_Q2, POINTS_Q2, Q_OFFSET_X, 0),
         (CORES_Q3, POINTS_Q3, 0, Q_OFFSET_Y), (CORES_Q4, POINTS_Q4, Q_OFFSET_X, Q_OFFSET_Y)]
for cores, points, dx, dy in QUADS:
    left.circle([c[0] + dx for c in cores], [c[1] + dy for c in cores], radius=[c[2] for c in cores],
                fill_color="#ffff00", line_color=None)
    left.scatter([q[0] + dx for q in points], [q[1] + dy for q in points], size=11,
                 fill_color="#ffff00", line_color=None)

head = dict(fill_color="#ff0000", line_color="#ff0000", size=43)
left.add_layout(Arrow(end=NormalHead(**head), x_start=2604, y_start=480, x_end=2604, y_end=67,
                      line_color="#ff0000", line_width=5))
left.add_layout(Arrow(end=NormalHead(**head), x_start=2604, y_start=480, x_end=2996, y_end=480,
                      line_color="#ff0000", line_width=5))
left.scatter([2604], [480], size=20, fill_color="#ff0000", line_color="#333333", line_width=1.5)
LF, LB = 21, 1283
txt(left, LF, LB, 993, 195, "N", 68, "bold italic", "#ff0000")
txt(left, LF, LB, 1049, 215, "Q", 40, "bold italic", "#ff0000")
txt(left, LF, LB, 1088, 281, "N", 66, "bold italic", "#ff0000")
txt(left, LF, LB, 1146, 298, "I", 38, "bold italic", "#ff0000")

FIG_LEFT, FIG_RIGHT = 1380, 2910
BOX_LEFT, BOX_RIGHT = 1493, 2860


# ---- histogram panels: the frame fills the figure and the box axes sit inside it, so outer texts are kept
def hist_panel(fig_top, fig_bottom, zero_x, per_x, zero_y, per_y, xticks, xlabels, first_edge, width_bin, density,
               cx, cy, xtick_py, ytick_dy, ylab_py, legend_py, sub, two_x, sigma_x, bar_x0, bar_x1, bar_py, sub_x, sub_base,
               eq_x, val, val_x, base, nx, nbase, nsub_x, nsub_base, nsub_size):
    to_x = lambda px: (px - zero_x) / per_x
    to_y = lambda py: (zero_y - py) / per_y
    p = figure(width=FIG_RIGHT - FIG_LEFT, height=fig_bottom - fig_top, output_backend="svg", toolbar_location=None,
               x_range=Range1d(to_x(FIG_LEFT), to_x(FIG_RIGHT)), y_range=Range1d(to_y(fig_bottom), to_y(fig_top)),
               min_border=0, x_axis_location=None, y_axis_location=None, outline_line_color=None)
    p.grid.visible = False
    overrides_x = {float(v): "" for v in xticks}
    overrides_y = {float(v): "" for v in YTICKS}
    style = dict(axis_line_color=INK, axis_line_width=2, major_tick_line_color=INK, major_tick_line_width=2,
                 major_tick_in=15, major_tick_out=0, minor_tick_line_color=None, major_label_standoff=0)
    bx = (to_x(BOX_LEFT), to_x(BOX_RIGHT))
    p.add_layout(LinearAxis(ticker=FixedTicker(ticks=xticks), major_label_overrides=overrides_x,
                            fixed_location=5, bounds=bx, **style), "above")
    p.add_layout(LinearAxis(ticker=FixedTicker(ticks=xticks), major_label_overrides=overrides_x,
                            fixed_location=0, bounds=bx, **style), "below")
    p.add_layout(LinearAxis(ticker=FixedTicker(ticks=YTICKS), major_label_overrides=overrides_y,
                            fixed_location=bx[0], bounds=(0, 5), **style), "left")
    p.add_layout(LinearAxis(ticker=FixedTicker(ticks=YTICKS), major_label_overrides=overrides_y,
                            fixed_location=bx[1], bounds=(0, 5), **style), "right")

    lefts = [first_edge + i * width_bin for i in range(len(density))]
    p.quad(left=lefts, right=[v + width_bin for v in lefts], bottom=0, top=density,
           fill_color="#398ecd", line_color="#111111", line_width=1.6)
    curve = p.line(cx, cy, line_color="#ff0000", line_width=10, line_cap="round", line_join="round")
    legend = Legend(items=[LegendItem(label=LEGEND_TEXT, renderers=[curve])],
                    location=(2263 - FIG_LEFT, fig_bottom - legend_py - 24),
                    padding=0, margin=0, spacing=0, glyph_height=48, glyph_width=126, label_height=48,
                    label_standoff=16, background_fill_alpha=0, border_line_color=None,
                    label_text_font=SERIF, label_text_font_style="italic", label_text_font_size="46px",
                    label_text_color="black")
    p.add_layout(legend, "center")

    for v, s in zip(xticks, xlabels):
        p.add_layout(Label(x=v, x_units="data", y=fig_bottom - xtick_py, y_units="screen", x_offset=15, text=s,
                           text_font=SANS, text_font_size="38px", text_color=INK,
                           text_align="center", text_baseline="middle"))
    for v, s in zip(YTICKS, YLABELS):
        p.add_layout(Label(x=1488 - FIG_LEFT, x_units="screen", y=v, y_units="data", y_offset=ytick_dy, text=s,
                           text_font=SANS, text_font_size="38px", text_color=INK,
                           text_align="right", text_baseline="middle"))
    FL, FB = FIG_LEFT, fig_bottom
    txt(p, FL, FB, 1427, ylab_py, YLABEL, 54, "bold", "#333333", align="center", angle=math.pi / 2)
    txt(p, FL, FB, nx, nbase, "N", 53, "italic")
    txt(p, FL, FB, nsub_x, nsub_base, sub, nsub_size, "italic")
    txt(p, FL, FB, two_x, base, "2", 67)
    txt(p, FL, FB, sigma_x, base, "\u03c3", 67, "italic")
    p.line([to_x(bar_x0), to_x(bar_x1)], [to_y(bar_py), to_y(bar_py)], line_color="black", line_width=3)
    txt(p, FL, FB, sub_x, sub_base, sub, 42, "italic")
    txt(p, FL, FB, eq_x, base, "=", 67)
    txt(p, FL, FB, val_x, base, val, 67)
    return p


top = hist_panel(0, 660, 2176.5, 854.0, 488, 90.2, TOP_XTICKS, TOP_XLABELS, I_FIRST_EDGE, I_BIN_WIDTH, I_DENSITY,
                 I_CURVE_X, I_CURVE_Y, 534, -4, 251, 106, "I", 2413, 2448, 2456, 2493, 296, 2491, 355,
                 2534, "0.2048", 2589, 338, 2162, 607, 2194, 631, 40)
bot = hist_panel(660, 1340, 2186.0, 927.8, 1168, 89.8, BOT_XTICKS, BOT_XLABELS, Q_FIRST_EDGE, Q_BIN_WIDTH, Q_DENSITY,
                 Q_CURVE_X, Q_CURVE_Y, 1217, -7, 938, 793, "Q", 2410, 2447, 2455, 2490, 966, 2486, 1027,
                 2540, "0.2088", 2594, 1008, 2154, 1289, 2191, 1315, 44)

page = row(left, column(top, bot))
with open("out.html", "w") as f:
    f.write(file_html(page, INLINE))
